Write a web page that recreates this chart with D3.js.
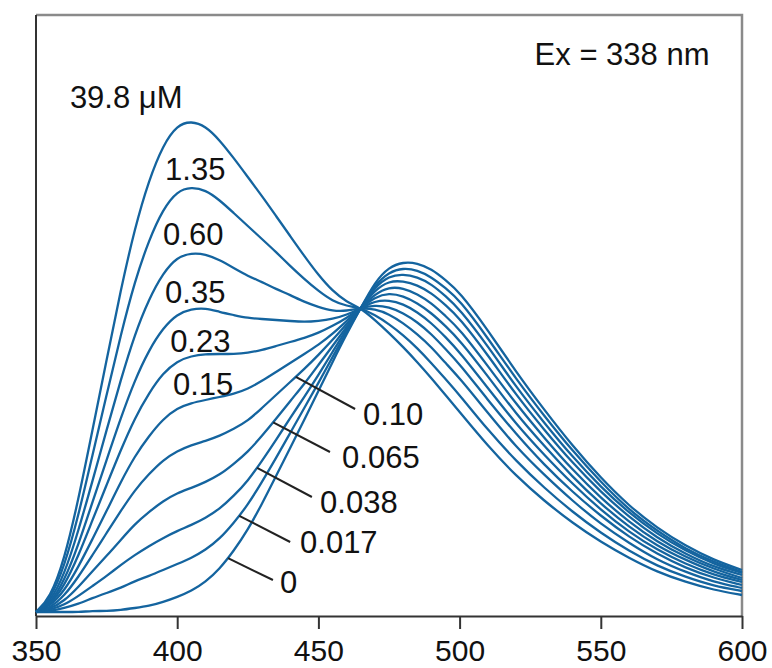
<!DOCTYPE html>
<html>
<head>
<meta charset="utf-8">
<script src="https://cdn.jsdelivr.net/npm/d3@7"></script>
<style>
  body { margin: 0; background: #fff; }
  svg { font-family: "Liberation Sans", Arial, Helvetica, sans-serif; }
</style>
</head>
<body>
<svg id="chart"></svg>
<script>
// emission wavelength (nm)
const wavelengths = [350, 355, 360, 365, 370, 375, 380, 385, 390, 395,
                     400, 405, 410, 415, 420, 425, 430, 435, 440, 445,
                     450, 455, 460, 465, 470, 475, 480, 485, 490, 495,
                     500, 510, 520, 530, 540, 550, 560, 570, 580, 590,
                     600]

// fluorescence intensity (a.u.) for each concentration
const em0 = [0, 0, 0, 0, 1, 1, 2, 4, 6, 10,
             15, 21, 30, 43, 61, 82, 108, 136, 164, 192,
             221, 250, 278, 304, 330, 345, 350, 349, 343, 332,
             320, 282, 240, 202, 166, 134, 106, 84, 66, 52,
             42]
const em0017 = [0, 1, 4, 8, 14, 19, 24, 31, 36, 42,
                48, 54, 62, 73, 89, 107, 130, 154, 179, 204,
                229, 255, 280, 304, 327, 340, 344, 342, 335, 324,
                312, 274, 233, 196, 161, 130, 102, 81, 63, 50,
                40]
const em0038 = [0, 2, 7, 16, 26, 36, 47, 57, 66, 74,
                81, 87, 94, 103, 116, 131, 151, 172, 194, 215,
                237, 260, 283, 304, 325, 336, 338, 335, 328, 316,
                303, 266, 225, 189, 155, 125, 99, 78, 61, 48,
                39]
const em0065 = [0, 3, 11, 25, 41, 56, 72, 88, 100, 111,
                119, 124, 130, 137, 148, 160, 176, 193, 211, 228,
                247, 266, 285, 304, 322, 331, 331, 327, 319, 307,
                294, 257, 217, 182, 149, 120, 95, 74, 58, 45,
                37]
const em010 = [0, 4, 16, 35, 57, 79, 101, 122, 138, 152,
               161, 167, 171, 176, 183, 191, 204, 217, 230, 243,
               257, 272, 288, 304, 318, 325, 324, 318, 309, 296,
               283, 246, 208, 174, 142, 114, 90, 70, 55, 43,
               34]
const em015 = [0, 6, 21, 45, 73, 101, 130, 156, 176, 193,
               204, 209, 212, 215, 218, 223, 231, 240, 249, 258,
               267, 278, 291, 304, 315, 319, 316, 309, 299, 286,
               272, 236, 198, 166, 135, 108, 85, 66, 52, 40,
               32]
const em023 = [0, 7, 26, 56, 92, 127, 162, 194, 219, 239,
               251, 256, 258, 258, 258, 259, 262, 266, 270, 274,
               279, 286, 294, 304, 311, 312, 308, 300, 289, 275,
               260, 224, 188, 157, 128, 102, 80, 62, 48, 37,
               30]
const em035 = [0, 8, 31, 67, 110, 152, 194, 232, 262, 284,
               298, 303, 304, 300, 297, 294, 293, 292, 291, 290,
               291, 293, 297, 304, 307, 305, 299, 290, 278, 263,
               248, 212, 178, 147, 120, 96, 75, 58, 44, 34,
               27]
const em060 = [0, 10, 37, 81, 131, 182, 232, 278, 313, 339,
               355, 359, 358, 352, 344, 336, 330, 323, 317, 310,
               305, 301, 301, 304, 303, 298, 289, 278, 265, 249,
               234, 199, 165, 137, 111, 88, 69, 52, 40, 30,
               24]
const em135 = [0, 12, 45, 96, 157, 217, 277, 331, 372, 403,
               421, 425, 422, 412, 399, 386, 373, 360, 346, 333,
               321, 311, 306, 304, 297, 288, 277, 264, 249, 233,
               217, 182, 151, 124, 100, 79, 61, 46, 35, 26,
               21]
const em398 = [0, 14, 52, 112, 182, 252, 322, 384, 432, 467,
               487, 491, 486, 472, 454, 435, 416, 396, 376, 356,
               337, 321, 310, 304, 292, 279, 265, 250, 234, 217,
               200, 166, 136, 111, 89, 70, 54, 40, 30, 22,
               17]

const seriesList = [em0, em0017, em0038, em0065, em010, em015, em023, em035, em060, em135, em398]
const concLabels = ['0', '0.017', '0.038', '0.065', '0.10', '0.15', '0.23', '0.35', '0.60', '1.35', '39.8 μM']

// label anchors in data units (wavelength, intensity)
const labelWl  = [436.4, 443.5, 450.6, 458.4, 465.8, 398.5, 397.5, 395.7, 395.0, 395.7, 362.0]
const labelInt = [19, 59, 99, 144, 187, 217, 260, 309, 367, 432, 504]

// leader lines for the low concentrations: start on the curve, end near the label
const leaderIdx   = [0, 1, 2, 3, 4]
const leaderWl    = [418, 422, 428.3, 434, 442]
const leaderEndWl = [433.9, 440.0, 447.7, 454.1, 463.0]
const leaderEndIn = [32, 70, 115, 160, 203]

const xTicks = [350, 400, 450, 500, 550, 600]

class EmissionChart {
    constructor(_config) {
        this.config = {
            parentElement: _config.parentElement,
            containerWidth: _config.containerWidth || 772,
            containerHeight: _config.containerHeight || 668,
            margin: {top: 15, right: 30, bottom: 52, left: 36}
        }
        this.initVis()
    }

    initVis() {
        let vis = this

        vis.width = vis.config.containerWidth - vis.config.margin.left - vis.config.margin.right
        vis.height = vis.config.containerHeight - vis.config.margin.top - vis.config.margin.bottom

        vis.xScale = d3.scaleLinear()
            .domain([350, 600])
            .range([0, vis.width])

        vis.yScale = d3.scaleLinear()
            .domain([-4, 597])
            .range([vis.height, 0])

        vis.svg = d3.select(vis.config.parentElement)
            .attr('width', vis.config.containerWidth)
            .attr('height', vis.config.containerHeight)

        vis.chart = vis.svg.append('g')
            .attr('transform', `translate(${vis.config.margin.left},${vis.config.margin.top})`)
    }

    renderVis() {
        let vis = this

        // frame: top and right are lighter grey
        vis.chart.append('path')
            .attr('d', `M0,0H${vis.width}V${vis.height}`)
            .attr('fill', 'none')
            .attr('stroke', '#8a8a8a')
            .attr('stroke-width', 2.5)

        vis.chart.append('line')
            .attr('x1', 0).attr('x2', 0)
            .attr('y1', 0).attr('y2', vis.height)
            .attr('stroke', '#333')
            .attr('stroke-width', 2)

        // x axis
        const xAxis = d3.axisBottom(vis.xScale)
            .tickValues(xTicks)
            .tickSizeInner(13)
            .tickSizeOuter(0)
            .tickPadding(11)

        const axisG = vis.chart.append('g')
            .attr('transform', `translate(0,${vis.height})`)
            .call(xAxis)

        axisG.select('.domain').attr('stroke', '#333').attr('stroke-width', 2)
        axisG.selectAll('.tick line').attr('stroke', '#333').attr('stroke-width', 2)
        axisG.selectAll('.tick text')
            .attr('font-size', 30)
            .attr('fill', '#111')
            .attr('font-family', '"Liberation Sans", Arial, sans-serif')

        // spectra
        const line = d3.line()
            .x((d, i) => vis.xScale(wavelengths[i]))
            .y(d => vis.yScale(d))
            .curve(d3.curveBasis)

        vis.chart.append('g')
            .selectAll('path')
            .data(seriesList)
            .join('path')
            .attr('d', line)
            .attr('fill', 'none')
            .attr('stroke', '#14649f')
            .attr('stroke-width', 2.3)

        // leaders
        vis.chart.append('g')
            .selectAll('line')
            .data(leaderIdx)
            .join('line')
            .attr('x1', (s, i) => vis.xScale(leaderWl[i]))
            .attr('y1', (s, i) => {
                const interp = d3.scaleLinear().domain(wavelengths).range(seriesList[s])
                return vis.yScale(interp(leaderWl[i]))
            })
            .attr('x2', (s, i) => vis.xScale(leaderEndWl[i]))
            .attr('y2', (s, i) => vis.yScale(leaderEndIn[i]))
            .attr('stroke', '#222')
            .attr('stroke-width', 2)

        // concentration labels
        vis.chart.append('g')
            .selectAll('text')
            .data(concLabels)
            .join('text')
            .text(d => d)
            .attr('x', (d, i) => vis.xScale(labelWl[i]))
            .attr('y', (d, i) => vis.yScale(labelInt[i]))
            .attr('font-size', 31)
            .attr('fill', '#111')

        vis.chart.append('text')
            .text('Ex = 338 nm')
            .attr('x', vis.xScale(588.5))
            .attr('y', 50)
            .attr('text-anchor', 'end')
            .attr('font-size', 31)
            .attr('fill', '#111')
    }
}

const chart = new EmissionChart({parentElement: '#chart'})
chart.renderVis()
</script>
</body>
</html>
